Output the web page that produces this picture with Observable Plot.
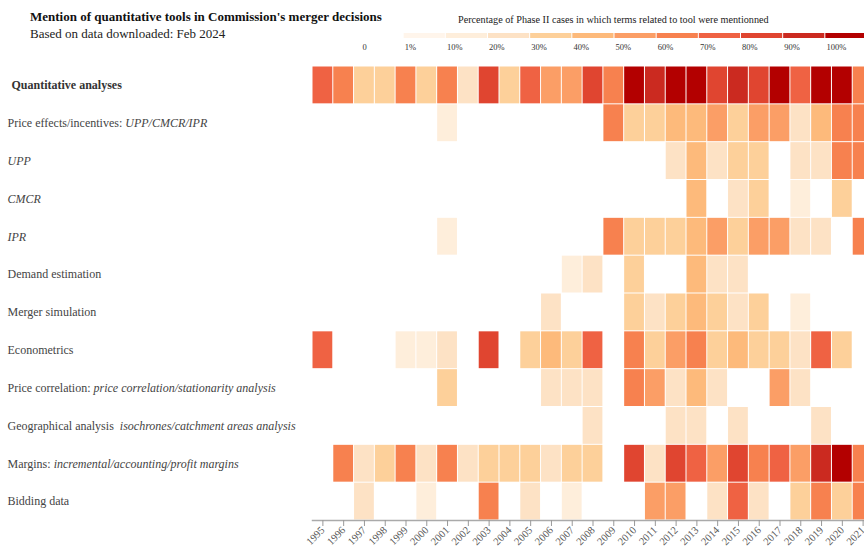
<!DOCTYPE html>
<html><head><meta charset="utf-8">
<script src="https://cdn.jsdelivr.net/npm/d3@7"></script>
<script src="https://cdn.jsdelivr.net/npm/@observablehq/plot@0.6"></script>
<style>
body{margin:0;width:864px;height:549px;overflow:hidden;background:#fff;font-family:"Liberation Serif","Times New Roman",serif;}
#header{position:relative;height:60px;}
#title{position:absolute;left:30px;top:9px;font-weight:bold;font-size:13px;color:#111;white-space:nowrap;}
#subtitle{position:absolute;left:30px;top:26px;font-size:13px;color:#222;white-space:nowrap;}
#legtitle{position:absolute;left:458px;top:14px;font-size:10.2px;color:#222;white-space:nowrap;}
#legend{position:absolute;left:361px;top:33px;}
#chart svg, #legend svg{display:block;overflow:visible;max-width:none !important;}
</style></head><body>
<div id="header">
  <div id="title">Mention of quantitative tools in Commission's merger decisions</div>
  <div id="subtitle">Based on data downloaded: Feb 2024</div>
  <div id="legtitle">Percentage of Phase II cases in which terms related to tool were mentionned</div>
  <div id="legend"></div>
</div>
<div id="chart"></div>
<script>
const years = ["1995","1996","1997","1998","1999","2000","2001","2002","2003","2004","2005","2006","2007","2008","2009","2010","2011","2012","2013","2014","2015","2016","2017","2018","2019","2020","2021"];

const toolPlain = ["Quantitative analyses","Price effects/incentives: ","","","","Demand estimation","Merger simulation","Econometrics","Price correlation: ","Geographical analysis  ","Margins: ","Bidding data"];
const toolItalic = ["","UPP/CMCR/IPR","UPP","CMCR","IPR","","","","price correlation/stationarity analysis","isochrones/catchment areas analysis","incremental/accounting/profit margins",""];

// percentage of Phase II cases (estimated from colour bins)
const quantitative = [75,65,35,35,65,35,65,25,85,35,75,55,55,85,65,100,95,100,100,85,95,85,100,75,100,100,65];
const priceEffects = [0,0,0,0,0,0,15,0,0,0,0,0,0,0,65,35,35,45,45,55,35,55,55,25,45,65,65];
const upp          = [0,0,0,0,0,0,0,0,0,0,0,0,0,0,0,0,0,25,45,25,35,35,0,25,25,65,65];
const cmcr         = [0,0,0,0,0,0,0,0,0,0,0,0,0,0,0,0,0,0,45,0,25,35,0,15,0,35,0];
const ipr          = [0,0,0,0,0,0,15,0,0,0,0,0,0,0,65,35,35,35,45,55,35,55,55,25,25,0,65];
const demand       = [0,0,0,0,0,0,0,0,0,0,0,0,15,25,0,35,0,0,45,25,25,0,0,0,0,0,0];
const simulation   = [0,0,0,0,0,0,0,0,0,0,0,25,0,0,0,35,25,35,45,35,25,35,0,15,0,0,0];
const econometrics = [75,0,0,0,15,15,25,0,85,0,35,45,35,75,0,65,35,55,65,35,45,35,35,25,75,35,0];
const correlation  = [0,0,0,0,0,0,35,0,0,0,0,25,25,25,0,65,55,25,45,25,0,0,55,25,0,0,0];
const geographical = [0,0,0,0,0,0,0,0,0,0,0,0,0,25,0,0,0,25,25,0,25,0,0,0,25,0,0];
const margins      = [0,65,25,35,65,25,65,25,35,35,35,25,35,35,0,85,25,85,75,55,85,65,75,55,95,100,65];
const bidding      = [0,0,25,0,0,15,0,0,65,0,25,0,15,0,0,0,55,55,0,25,75,25,0,35,65,35,65];

const legendLabels = ["0","1%","10%","20%","30%","40%","50%","60%","70%","80%","90%","100%"];
const legendValues = [0,1,10,20,30,40,50,60,70,80,90,100];
const thresholds = [1,10,20,30,40,50,60,70,80,90,100];
const colors = ["#ffffff","#fff5eb","#feeedb","#fde2c5","#fdd09a","#fdba7b","#fb9e66","#f7814f","#ef6243","#e04530","#cb2a20","#b30000"];

const series = [quantitative,priceEffects,upp,cmcr,ipr,demand,simulation,econometrics,correlation,geographical,margins,bidding];
const tools = toolPlain.map((p,i)=>p+toolItalic[i]);
const data = [];
series.forEach((arr,i)=>arr.forEach((v,j)=>{ if (v>0) data.push({tool:tools[i], year:years[j], v}); }));

const colorScale = {type:"threshold", domain:thresholds, range:colors};

const chart = Plot.plot({
  width: 885, height: 489,
  marginLeft: 312, marginRight: 12, marginTop: 6, marginBottom: 29,
  style: {fontFamily: '"Liberation Serif","Times New Roman",serif', background:"transparent", maxWidth:"none"},
  x: {type:"band", domain: years, padding: 0, round: false, label: null},
  y: {type:"band", domain: tools, padding: 0, round: false, label: null, axis: null},
  color: colorScale,
  marks: [
    Plot.cell(data, {x:"year", y:"tool", fill:"v", inset:0.5}),
    Plot.frame({anchor:"bottom", stroke:"#aaa", strokeWidth:1.5}),
    Plot.axisX({anchor:"bottom", tickRotate:-45, fontSize:10.5, tickSize:6, tickPadding:2, fill:"#555", stroke:"#999", label:null}),
    Plot.text(tools, {y: d=>d, frameAnchor:"left", dx:-305, textAnchor:"start", fontSize:12, fill:"#444"})
  ]
});
document.getElementById("chart").appendChild(chart);

// mixed styling for tool labels
d3.select(chart).selectAll("text").each(function(){
  const full = this.textContent;
  const i = tools.indexOf(full);
  if (i < 0) return;
  const el = d3.select(this);
  el.text(null).attr("xml:space","preserve").style("white-space","pre");
  if (toolPlain[i]) {
    const t = el.append("tspan").text(toolPlain[i]);
    if (i === 0) t.attr("font-weight","bold").attr("dx", 4).attr("fill","#333");
  }
  if (toolItalic[i]) el.append("tspan").attr("font-style","italic").text(toolItalic[i]);
});

const legendData = legendLabels.map((label,i)=>({label, v:legendValues[i]}));
const legend = Plot.plot({
  width: 506, height: 20,
  marginLeft: 0, marginRight: 0, marginTop: 0, marginBottom: 0,
  style: {fontFamily: '"Liberation Serif","Times New Roman",serif', background:"transparent", overflow:"visible", maxWidth:"none"},
  x: {type:"band", domain: legendLabels, padding: 0, round: false, axis: null},
  y: {domain:[0,1], range:[5,0], axis: null},
  color: colorScale,
  marks: [
    Plot.barY(legendData, {x:"label", y1:0, y2:1, fill:"v", insetLeft:0.5, insetRight:0.5}),
    Plot.text(legendData, {x:"label", y:0, dy:9, dx:-20, textAnchor:"start", text:"label", fontSize:8.5, fill:"#333"})
  ]
});
document.getElementById("legend").appendChild(legend);
</script>
</body></html>
